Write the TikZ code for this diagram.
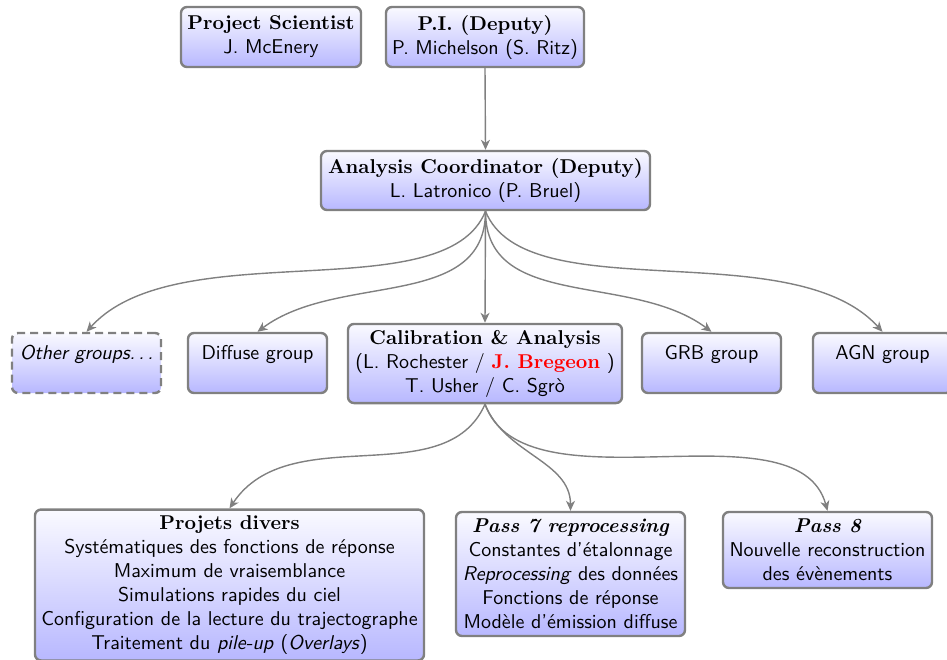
\documentclass[tikz,border=0pt]{standalone}
\usepackage{fontspec}
\usetikzlibrary{arrows.meta}
\tikzset{
  box/.style={draw=gray, line width=1.2pt, rounded corners=3pt, top color=blue!2, bottom color=blue!28,
    align=center, font=\sffamily, inner sep=3pt},
  grp/.style={box, minimum width=69.5pt, text height=10pt, text depth=14pt},
  conn/.style={draw=gray, line width=0.7pt, -{Stealth[length=5pt,width=4.5pt,inset=1.5pt]}},
}
\newcommand{\ttlfont}{\rmfamily\bfseries}
\begin{document}
\begin{tikzpicture}[x=0.5pt,y=0.5pt]
\useasboundingbox (0,0) rectangle (947,-659);
\node[box, minimum width=90pt, minimum height=30pt] (ps) at (271,-37) {{\ttlfont Project Scientist}\\J. McEnery};
\node[box, minimum width=99pt, minimum height=30pt] (pi) at (485,-37) {{\ttlfont P.I. (Deputy)}\\P. Michelson (S. Ritz)};
\node[box, minimum width=164.5pt, minimum height=29.5pt] (ac) at (485.5,-180.5) {{\ttlfont Analysis Coordinator (Deputy)}\\L. Latronico (P. Bruel)};
\node[grp, dash pattern=on 4pt off 2.5pt, minimum width=74.5pt] (oth) at (86.5,-363) {\itshape Other groups.\,.\,.};
\node[grp] (dif) at (257.5,-363) {Diffuse group};
\node[box, minimum width=137pt, minimum height=38.5pt] (cal) at (485,-363.5) {{\ttlfont Calibration \& Analysis}\\(L. Rochester / {\ttlfont\color{red} J. Bregeon} )\\T. Usher / C. Sgrò};
\node[grp] (grb) at (711.5,-363) {GRB group};
\node[grp] (agn) at (882.5,-363) {AGN group};
\node[box, minimum width=194.5pt, minimum height=73pt] (pd) at (229.5,-585) {{\ttlfont Projets divers}\\Systématiques des fonctions de réponse\\Maximum de vraisemblance\\Simulations rapides du ciel\\Configuration de la lecture du trajectographe\\Traitement du \textit{pile-up} (\textit{Overlays})};
\node[box, minimum width=114.5pt, minimum height=62pt] (p7) at (570.5,-574) {{\ttlfont\itshape Pass 7 reprocessing}\\Constantes d’étalonnage\\\textit{Reprocessing} des données\\Fonctions de réponse\\Modèle d’émission diffuse};
\node[box, minimum width=104.5pt, minimum height=38pt] (p8) at (827.5,-550) {{\ttlfont\itshape Pass 8}\\Nouvelle reconstruction\\des évènements};

\draw[conn] (pi.south) -- (ac.north);
\draw[conn] (ac.south) -- (cal.north);
\draw[conn] (ac.south) .. controls +(-20pt,-50pt) and +(45pt,50pt) .. (oth.north);
\draw[conn] (ac.south) .. controls +(0pt,-50pt) and +(40pt,30pt) .. (dif.north);
\draw[conn] (ac.south) .. controls +(0pt,-50pt) and +(-40pt,30pt) .. (grb.north);
\draw[conn] (ac.south) .. controls +(20pt,-50pt) and +(-45pt,50pt) .. (agn.north);
\draw[conn] (cal.south) .. controls +(-20pt,-45pt) and +(30pt,45pt) .. (pd.north);
\draw[conn] (cal.south) .. controls +(10pt,-25pt) and +(0pt,25pt) .. (p7.north);
\draw[conn] (cal.south) .. controls +(20pt,-55pt) and +(-15pt,55pt) .. (p8.north);
\end{tikzpicture}
\end{document}
